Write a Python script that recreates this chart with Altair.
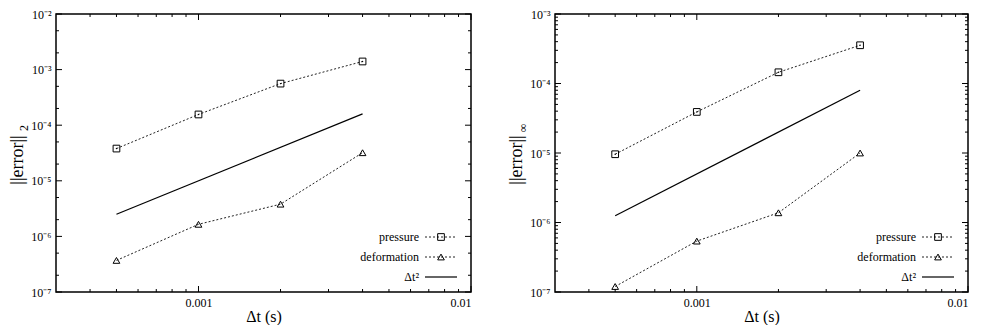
import altair as alt
import pandas as pd

# ---------------- data ----------------
dt = [0.0005, 0.001, 0.002, 0.004]

l2_pressure = [3.8e-5, 1.56e-4, 5.6e-4, 1.4e-3]
l2_deformation = [3.7e-7, 1.65e-6, 3.8e-6, 3.2e-5]
l2_ref_dt = [0.0005, 0.004]
l2_ref = [2.5e-6, 1.6e-4]

inf_pressure = [9.6e-6, 3.9e-5, 1.45e-4, 3.55e-4]
inf_deformation = [1.2e-7, 5.4e-7, 1.38e-6, 1.0e-5]
inf_ref_dt = [0.0005, 0.004]
inf_ref = [1.25e-6, 8.0e-5]

series_names = ["pressure", "deformation"]
legend_labels = ["pressure", "deformation", "Δt²"]

x_domain = [3e-4, 1e-2]
x_major = [0.001, 0.01]
x_minor = [4e-4, 5e-4, 6e-4, 7e-4, 8e-4, 9e-4,
           2e-3, 3e-3, 4e-3, 5e-3, 6e-3, 7e-3, 8e-3, 9e-3]

y_exponents = [-7, -6, -5, -4, -3, -2]
y_labels = ["10⁻⁷", "10⁻⁶", "10⁻⁵", "10⁻⁴", "10⁻³", "10⁻²"]

FONT = "Liberation Serif"
H = 278
TMAJ, TMIN = 6, 3


def minor_ticks(exps, mults):
    out = []
    for e in exps[:-1]:
        for m in mults:
            out.append(m * 10.0 ** e)
    return out


def panel(pres, defo, ref_dt, ref_vals, ydom_exp, y_minor_mults, sub, W):
    exps = [e for e in y_exponents if ydom_exp[0] <= e <= ydom_exp[1]]
    y_major = [10.0 ** e for e in exps]
    y_minor = minor_ticks(exps, y_minor_mults)
    label_expr = "[" + ",".join("'%s'" % s for s in y_labels) + "][round(log(datum.value)/LN10)+7]"

    xs = alt.Scale(type="log", domain=x_domain)
    ys = alt.Scale(type="log", domain=[10.0 ** ydom_exp[0], 10.0 ** ydom_exp[1]])
    xax = alt.Axis(values=x_major, format="~g", title="Δt (s)",
                   labelFont=FONT, labelFontSize=12, labelPadding=5,
                   titleFont=FONT, titleFontSize=16, titlePadding=0)
    yax = alt.Axis(values=y_major, labelExpr=label_expr, title=None,
                   labelFont=FONT, labelFontSize=12, labelPadding=5)

    df = pd.DataFrame({
        "dt": dt * 2,
        "err": pres + defo,
        "series": [series_names[0]] * len(dt) + [series_names[1]] * len(dt),
    })
    dref = pd.DataFrame({"dt": ref_dt, "err": ref_vals})

    X = alt.X("dt:Q", scale=xs, axis=xax)
    Y = alt.Y("err:Q", scale=ys, axis=yax)

    lines = alt.Chart(df).mark_line(strokeDash=[2, 2], strokeWidth=1, color="#222").encode(
        x=X, y=Y, detail="series:N")
    pts = alt.Chart(df).mark_point(filled=False, color="black", strokeWidth=1, size=45, opacity=1).encode(
        x=X, y=Y,
        shape=alt.Shape("series:N", scale=alt.Scale(domain=series_names, range=["square", "triangle-up"]), legend=None))
    dots = alt.Chart(df[df.series == "pressure"]).mark_point(filled=True, color="black", size=2, opacity=1).encode(
        x=X, y=Y)
    ref = alt.Chart(dref).mark_line(color="black", strokeWidth=1.2).encode(x=X, y=Y)

    layers = [lines, pts, dots, ref]

    # inward ticks on all four sides
    dxM = pd.DataFrame({"dt": x_major})
    dxm = pd.DataFrame({"dt": x_minor})
    dyM = pd.DataFrame({"err": y_major})
    dym = pd.DataFrame({"err": y_minor})
    for d, L in ((dxM, TMAJ), (dxm, TMIN)):
        layers.append(alt.Chart(d).mark_rule(color="black", strokeWidth=1).encode(
            x=X, y=alt.value(H), y2=alt.value(H - L)))
        layers.append(alt.Chart(d).mark_rule(color="black", strokeWidth=1).encode(
            x=X, y=alt.value(0), y2=alt.value(L)))
    for d, L in ((dyM, TMAJ), (dym, TMIN)):
        layers.append(alt.Chart(d).mark_rule(color="black", strokeWidth=1).encode(
            y=Y, x=alt.value(0), x2=alt.value(L)))
        layers.append(alt.Chart(d).mark_rule(color="black", strokeWidth=1).encode(
            y=Y, x=alt.value(W), x2=alt.value(W - L)))

    one = pd.DataFrame({"a": [0]})
    # y title
    layers.append(alt.Chart(one).mark_text(text="||error||", angle=270, font=FONT, fontSize=18,
                                           align="center", baseline="middle", color="black").encode(
        x=alt.value(-38), y=alt.value(H / 2 + 7)))
    layers.append(alt.Chart(one).mark_text(text=sub, angle=270, font=FONT, fontSize=12,
                                           align="center", baseline="middle", color="black").encode(
        x=alt.value(-32), y=alt.value(H / 2 - 25)))

    # legend (inside, bottom right)
    rows = [H - 55, H - 35, H - 15]
    shapes = ["square", "triangle-up", None]
    for lab, ry, shp in zip(legend_labels, rows, shapes):
        layers.append(alt.Chart(one).mark_text(text=lab, font=FONT, fontSize=12, align="right",
                                               baseline="middle", color="black").encode(
            x=alt.value(W - 52), y=alt.value(ry)))
        if shp is None:
            layers.append(alt.Chart(one).mark_rule(color="black", strokeWidth=1.2).encode(
                x=alt.value(W - 46), x2=alt.value(W - 14), y=alt.value(ry)))
        else:
            layers.append(alt.Chart(one).mark_rule(color="#222", strokeWidth=1, strokeDash=[2, 2]).encode(
                x=alt.value(W - 46), x2=alt.value(W - 14), y=alt.value(ry)))
            layers.append(alt.Chart(one).mark_point(shape=shp, filled=False, color="black", size=45,
                                                    strokeWidth=1, opacity=1).encode(
                x=alt.value(W - 30), y=alt.value(ry)))

    return alt.layer(*layers).properties(width=W, height=H)


left = panel(l2_pressure, l2_deformation, l2_ref_dt, l2_ref, (-7, -2), [2, 5], "2", 415)
right = panel(inf_pressure, inf_deformation, inf_ref_dt, inf_ref, (-7, -3), [2, 3, 4, 5, 6, 7, 8, 9], "∞", 413)

chart = alt.hconcat(left, right, spacing=84, bounds="flush",
                    padding={"left": 0, "top": -1, "right": 0, "bottom": 0}).configure_view(
    stroke="black", strokeWidth=1.5
).configure_axis(
    ticks=False, domain=False, grid=False,
    labelFont=FONT, labelFontSize=12, labelColor="black",
    titleFont=FONT, titleFontSize=16, titleFontWeight="normal", titleColor="black",
)

chart.save("out.html", embed_options={"renderer": "svg", "actions": False})
